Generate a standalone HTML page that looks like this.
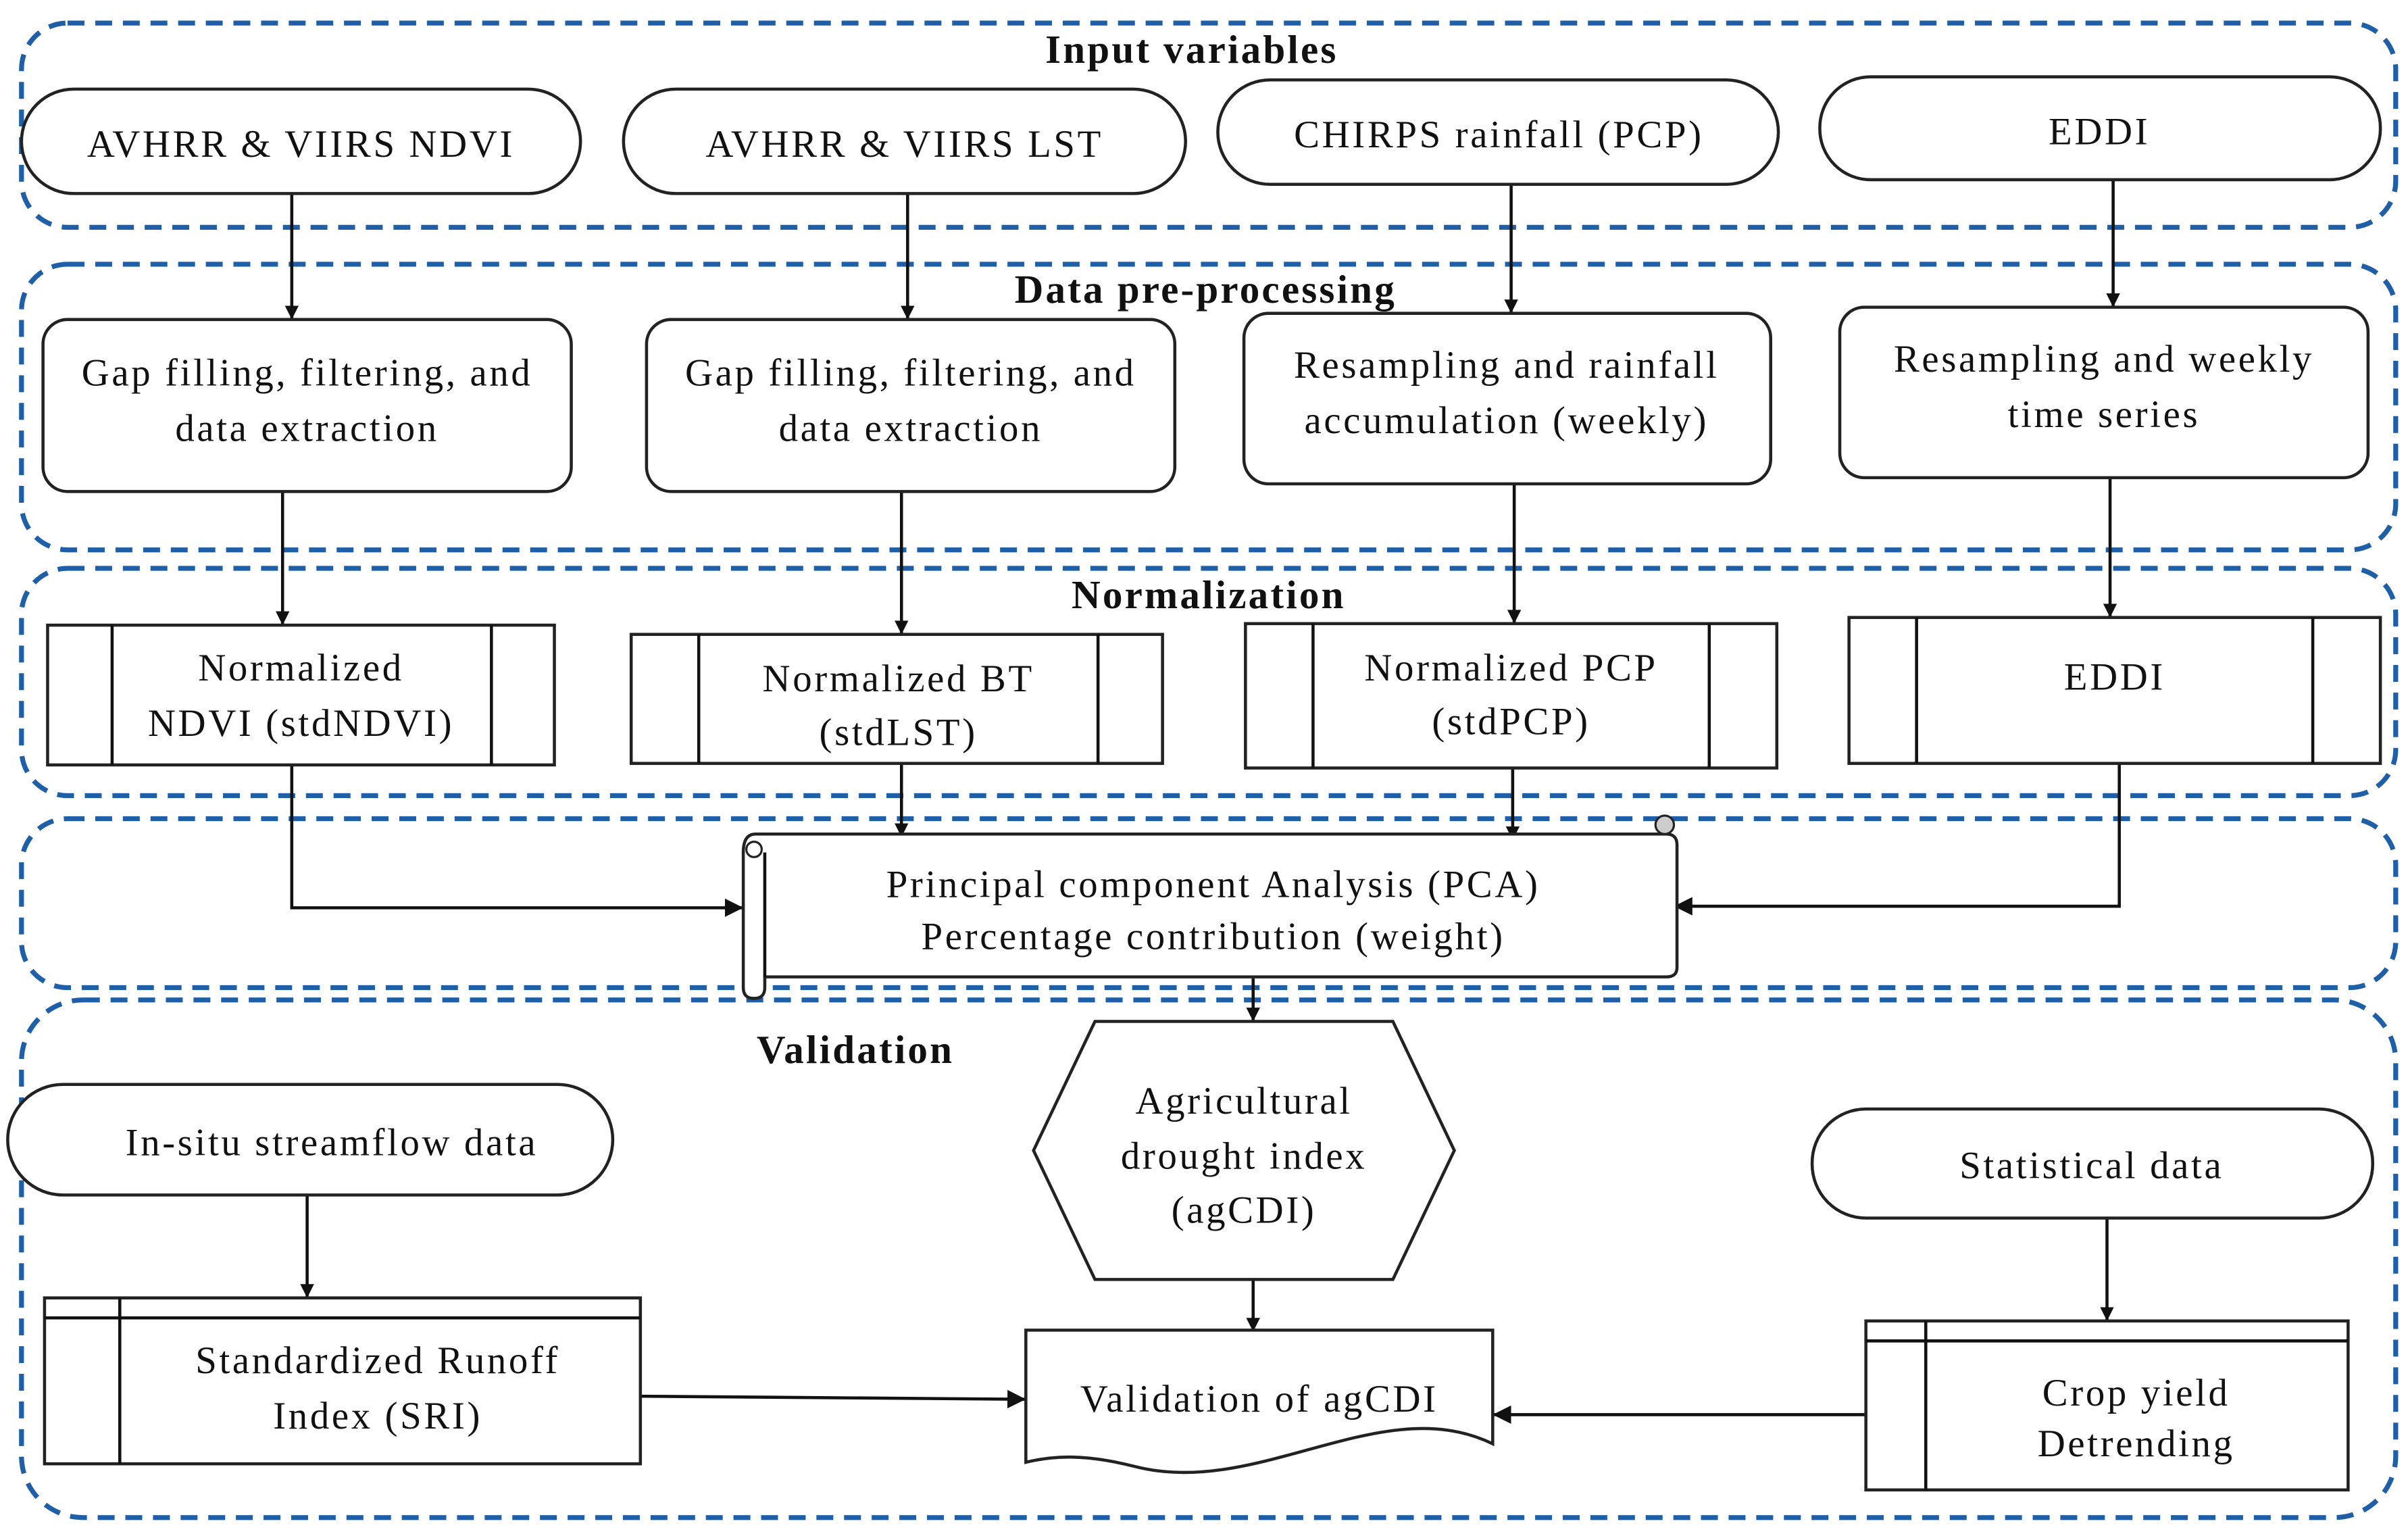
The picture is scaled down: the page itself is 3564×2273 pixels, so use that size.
<!DOCTYPE html>
<html><head><meta charset="utf-8"><style>
html,body{margin:0;padding:0;background:#fff;}
svg{display:block}
text{font-family:"Liberation Serif",serif;font-size:25px;fill:#111;text-anchor:middle;letter-spacing:1.6px}
.t{font-weight:bold;font-size:26px;letter-spacing:1.4px}
.g{fill:none;stroke:#1f5fa8;stroke-width:3.2;stroke-dasharray:11 7}
.s{fill:#fff;stroke:#222;stroke-width:2}
.l{fill:none;stroke:#111;stroke-width:2}
</style></head><body>
<svg width="3564" height="2273" viewBox="0 0 1568 1000" xmlns="http://www.w3.org/2000/svg">
<defs><marker id="a" viewBox="0 0 10 10" refX="10" refY="5" markerWidth="9" markerHeight="10" markerUnits="userSpaceOnUse" orient="auto"><path d="M0,0 L10,5 L0,10 z" fill="#111"/></marker>
<marker id="b" viewBox="0 0 10 10" refX="10" refY="5" markerWidth="12" markerHeight="12" markerUnits="userSpaceOnUse" orient="auto"><path d="M0,0 L10,5 L0,10 z" fill="#111"/></marker></defs>
<rect class="g" x="14" y="15" width="1546" height="133" rx="30"/>
<rect class="g" x="14" y="172" width="1546" height="186" rx="30"/>
<rect class="g" x="14" y="370" width="1546" height="148" rx="30"/>
<rect class="g" x="14" y="533" width="1546" height="110" rx="30"/>
<rect class="g" x="14" y="651" width="1546" height="337" rx="40"/>
<text class="t" x="776" y="41">Input variables</text>
<text class="t" x="785" y="197">Data pre-processing</text>
<text class="t" x="787" y="396">Normalization</text>
<text class="t" x="557" y="692">Validation</text>
<g class="l">
<line x1="190" y1="126" x2="190" y2="208" marker-end="url(#a)"/>
<line x1="591" y1="126" x2="591" y2="208" marker-end="url(#a)"/>
<line x1="984" y1="120" x2="984" y2="204" marker-end="url(#a)"/>
<line x1="1376" y1="117" x2="1376" y2="200" marker-end="url(#a)"/>
<line x1="184" y1="320" x2="184" y2="407" marker-end="url(#a)"/>
<line x1="587" y1="320" x2="587" y2="413" marker-end="url(#a)"/>
<line x1="986" y1="315" x2="986" y2="406" marker-end="url(#a)"/>
<line x1="1374" y1="311" x2="1374" y2="402" marker-end="url(#a)"/>
<polyline points="190,498 190,591 484,591" marker-end="url(#b)"/>
<line x1="587" y1="497" x2="587" y2="545" marker-end="url(#a)"/>
<line x1="985" y1="500" x2="985" y2="547" marker-end="url(#a)"/>
<polyline points="1380,497 1380,590 1090,590" marker-end="url(#b)"/>
<line x1="816" y1="637" x2="816" y2="665" marker-end="url(#a)"/>
<line x1="816" y1="833" x2="816" y2="867" marker-end="url(#a)"/>
<line x1="200" y1="778" x2="200" y2="845" marker-end="url(#a)"/>
<line x1="417" y1="909" x2="668" y2="911" marker-end="url(#b)"/>
<line x1="1372" y1="793" x2="1372" y2="860" marker-end="url(#a)"/>
<line x1="1215" y1="921" x2="972" y2="921" marker-end="url(#b)"/>
</g>
<rect class="s" x="14" y="58" width="364" height="68" rx="34"/><text x="196" y="102">AVHRR &amp; VIIRS NDVI</text>
<rect class="s" x="406" y="58" width="366" height="68" rx="34"/><text x="589" y="102">AVHRR &amp; VIIRS LST</text>
<rect class="s" x="793" y="52" width="365" height="68" rx="34"/><text x="976" y="96">CHIRPS rainfall (PCP)</text>
<rect class="s" x="1185" y="50" width="365" height="67" rx="33"/><text x="1367" y="94">EDDI</text>
<rect class="s" x="28" y="208" width="344" height="112" rx="16"/><text x="200" y="251">Gap filling, filtering, and</text><text x="200" y="287">data extraction</text>
<rect class="s" x="421" y="208" width="344" height="112" rx="16"/><text x="593" y="251">Gap filling, filtering, and</text><text x="593" y="287">data extraction</text>
<rect class="s" x="810" y="204" width="343" height="111" rx="16"/><text x="981" y="246">Resampling and rainfall</text><text x="981" y="282">accumulation (weekly)</text>
<rect class="s" x="1198" y="200" width="344" height="111" rx="16"/><text x="1370" y="242">Resampling and weekly</text><text x="1370" y="278">time series</text>
<rect class="s" x="31" y="407" width="330" height="91"/><line class="l" x1="73" y1="407" x2="73" y2="498"/><line class="l" x1="320" y1="407" x2="320" y2="498"/>
<text x="196" y="443">Normalized</text><text x="196" y="479">NDVI (stdNDVI)</text>
<rect class="s" x="411" y="413" width="346" height="84"/><line class="l" x1="455" y1="413" x2="455" y2="497"/><line class="l" x1="715" y1="413" x2="715" y2="497"/>
<text x="585" y="450">Normalized BT</text><text x="585" y="485">(stdLST)</text>
<rect class="s" x="811" y="406" width="346" height="94"/><line class="l" x1="855" y1="406" x2="855" y2="500"/><line class="l" x1="1113" y1="406" x2="1113" y2="500"/>
<text x="984" y="443">Normalized PCP</text><text x="984" y="478">(stdPCP)</text>
<rect class="s" x="1204" y="402" width="346" height="95"/><line class="l" x1="1248" y1="402" x2="1248" y2="497"/><line class="l" x1="1506" y1="402" x2="1506" y2="497"/>
<text x="1377" y="449">EDDI</text>
<path class="s" d="M492,543 L1085,543 Q1092,543 1092,550 L1092,630 Q1092,636 1085,636 L498,636 L498,643 Q498,650 491,650 Q484,650 484,643 L484,555 Q484,543 492,543 Z"/>
<line class="l" x1="498" y1="555" x2="498" y2="636"/>
<circle cx="491" cy="553" r="5" fill="#fff" stroke="#222" stroke-width="1.4"/>
<circle cx="1084" cy="537" r="6" fill="#ccc" stroke="#222" stroke-width="1.4"/>
<text x="790" y="584">Principal component Analysis (PCA)</text>
<text x="790" y="618">Percentage contribution (weight)</text>
<polygon class="s" points="673,749 713,665 907,665 947,749 907,833 713,833"/>
<text x="810" y="725">Agricultural</text><text x="810" y="761">drought index</text><text x="810" y="796">(agCDI)</text>
<path class="s" d="M668,866 L972,866 L972,940 C900,905 820,975 740,955 C705,946 685,948 668,952 Z"/>
<text x="820" y="919">Validation of agCDI</text>
<rect class="s" x="5" y="706" width="394" height="72" rx="36"/><text x="216" y="752">In-situ streamflow data</text>
<rect class="s" x="1180" y="722" width="365" height="71" rx="35"/><text x="1362" y="767">Statistical data</text>
<rect class="s" x="29" y="845" width="388" height="108"/><line class="l" x1="29" y1="858" x2="417" y2="858"/><line class="l" x1="78" y1="845" x2="78" y2="953"/>
<text x="246" y="894">Standardized Runoff</text><text x="246" y="930">Index (SRI)</text>
<rect class="s" x="1215" y="860" width="314" height="110"/><line class="l" x1="1215" y1="873" x2="1529" y2="873"/><line class="l" x1="1254" y1="860" x2="1254" y2="970"/>
<text x="1391" y="915">Crop yield</text><text x="1391" y="948">Detrending</text>
</svg>
</body></html>
